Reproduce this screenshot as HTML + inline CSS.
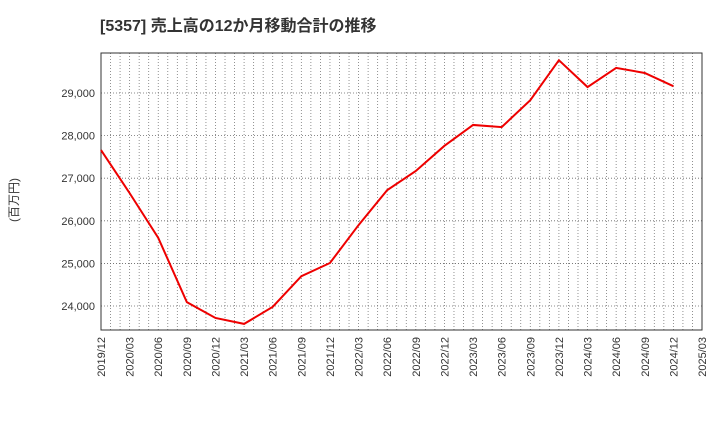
<!DOCTYPE html>
<html><head><meta charset="utf-8"><style>
body{margin:0;background:#fff;font-family:"Liberation Sans","Noto Sans CJK JP",sans-serif}
</style></head><body>
<svg id="c" width="720" height="440" xmlns="http://www.w3.org/2000/svg">
<text x="100" y="31" font-size="16" font-weight="bold" fill="#333">[5357]  売上高の12か月移動合計の推移</text>
<text transform="translate(18,200) rotate(-90)" text-anchor="middle" font-size="12" fill="#333">(百万円)</text>
<g id="grid"></g><g id="ax"></g><g id="series"></g>
</svg>
<script>
const xLabels=["2019/12","2020/03","2020/06","2020/09","2020/12","2021/03","2021/06","2021/09","2021/12","2022/03","2022/06","2022/09","2022/12","2023/03","2023/06","2023/09","2023/12","2024/03","2024/06","2024/09","2024/12","2025/03"];
const values=[27660,26650,25600,24090,23720,23580,23980,24700,25010,25900,26720,27170,27760,28250,28200,28830,29770,29140,29590,29470,29160];
const yTicks=[24000,25000,26000,27000,28000,29000];
const yTickLabels=["24,000","25,000","26,000","27,000","28,000","29,000"];
const L=101,R=702,T=53,B=330,yMin=23437,yMax=29939;
const ns="http://www.w3.org/2000/svg";
const X=i=>L+i*(R-L)/(xLabels.length-1);
const Y=v=>B-(v-yMin)/(yMax-yMin)*(B-T);
function mk(p,t,a){const e=document.createElementNS(ns,t);for(const k in a)e.setAttribute(k,a[k]);document.getElementById(p).appendChild(e);return e;}
for(let m=1;m<(xLabels.length-1)*3;m++){
 const g=mk('grid','line',{x1:X(m/3),x2:X(m/3),y1:T,y2:B,stroke:'#777','stroke-dasharray':'1,2','stroke-width':0.8});
 
 
}
xLabels.forEach((s,i)=>{
 const t=mk('ax','text',{transform:`translate(${X(i)+4},${B+7}) rotate(-90)`,'text-anchor':'end','font-size':11,fill:'#333'});
 t.textContent=s;
 
 
});
yTicks.forEach((v,i)=>{
 const g=mk('grid','line',{x1:L,x2:R,y1:Y(v),y2:Y(v),stroke:'#666','stroke-dasharray':'1,2','stroke-width':0.8});
 
 
 const t=mk('ax','text',{x:L-6,y:Y(v)+4,'text-anchor':'end','font-size':11,fill:'#333'});
 t.textContent=yTickLabels[i];
 
 
});
const f=mk('ax','rect',{x:L,y:T,width:R-L,height:B-T,fill:'none',stroke:'#333','stroke-width':1});


const p=mk('series','polyline',{points:values.map((v,i)=>X(i)+','+Y(v)).join(' '),fill:'none',stroke:'#e00','stroke-width':2});


</script>
</body></html>
